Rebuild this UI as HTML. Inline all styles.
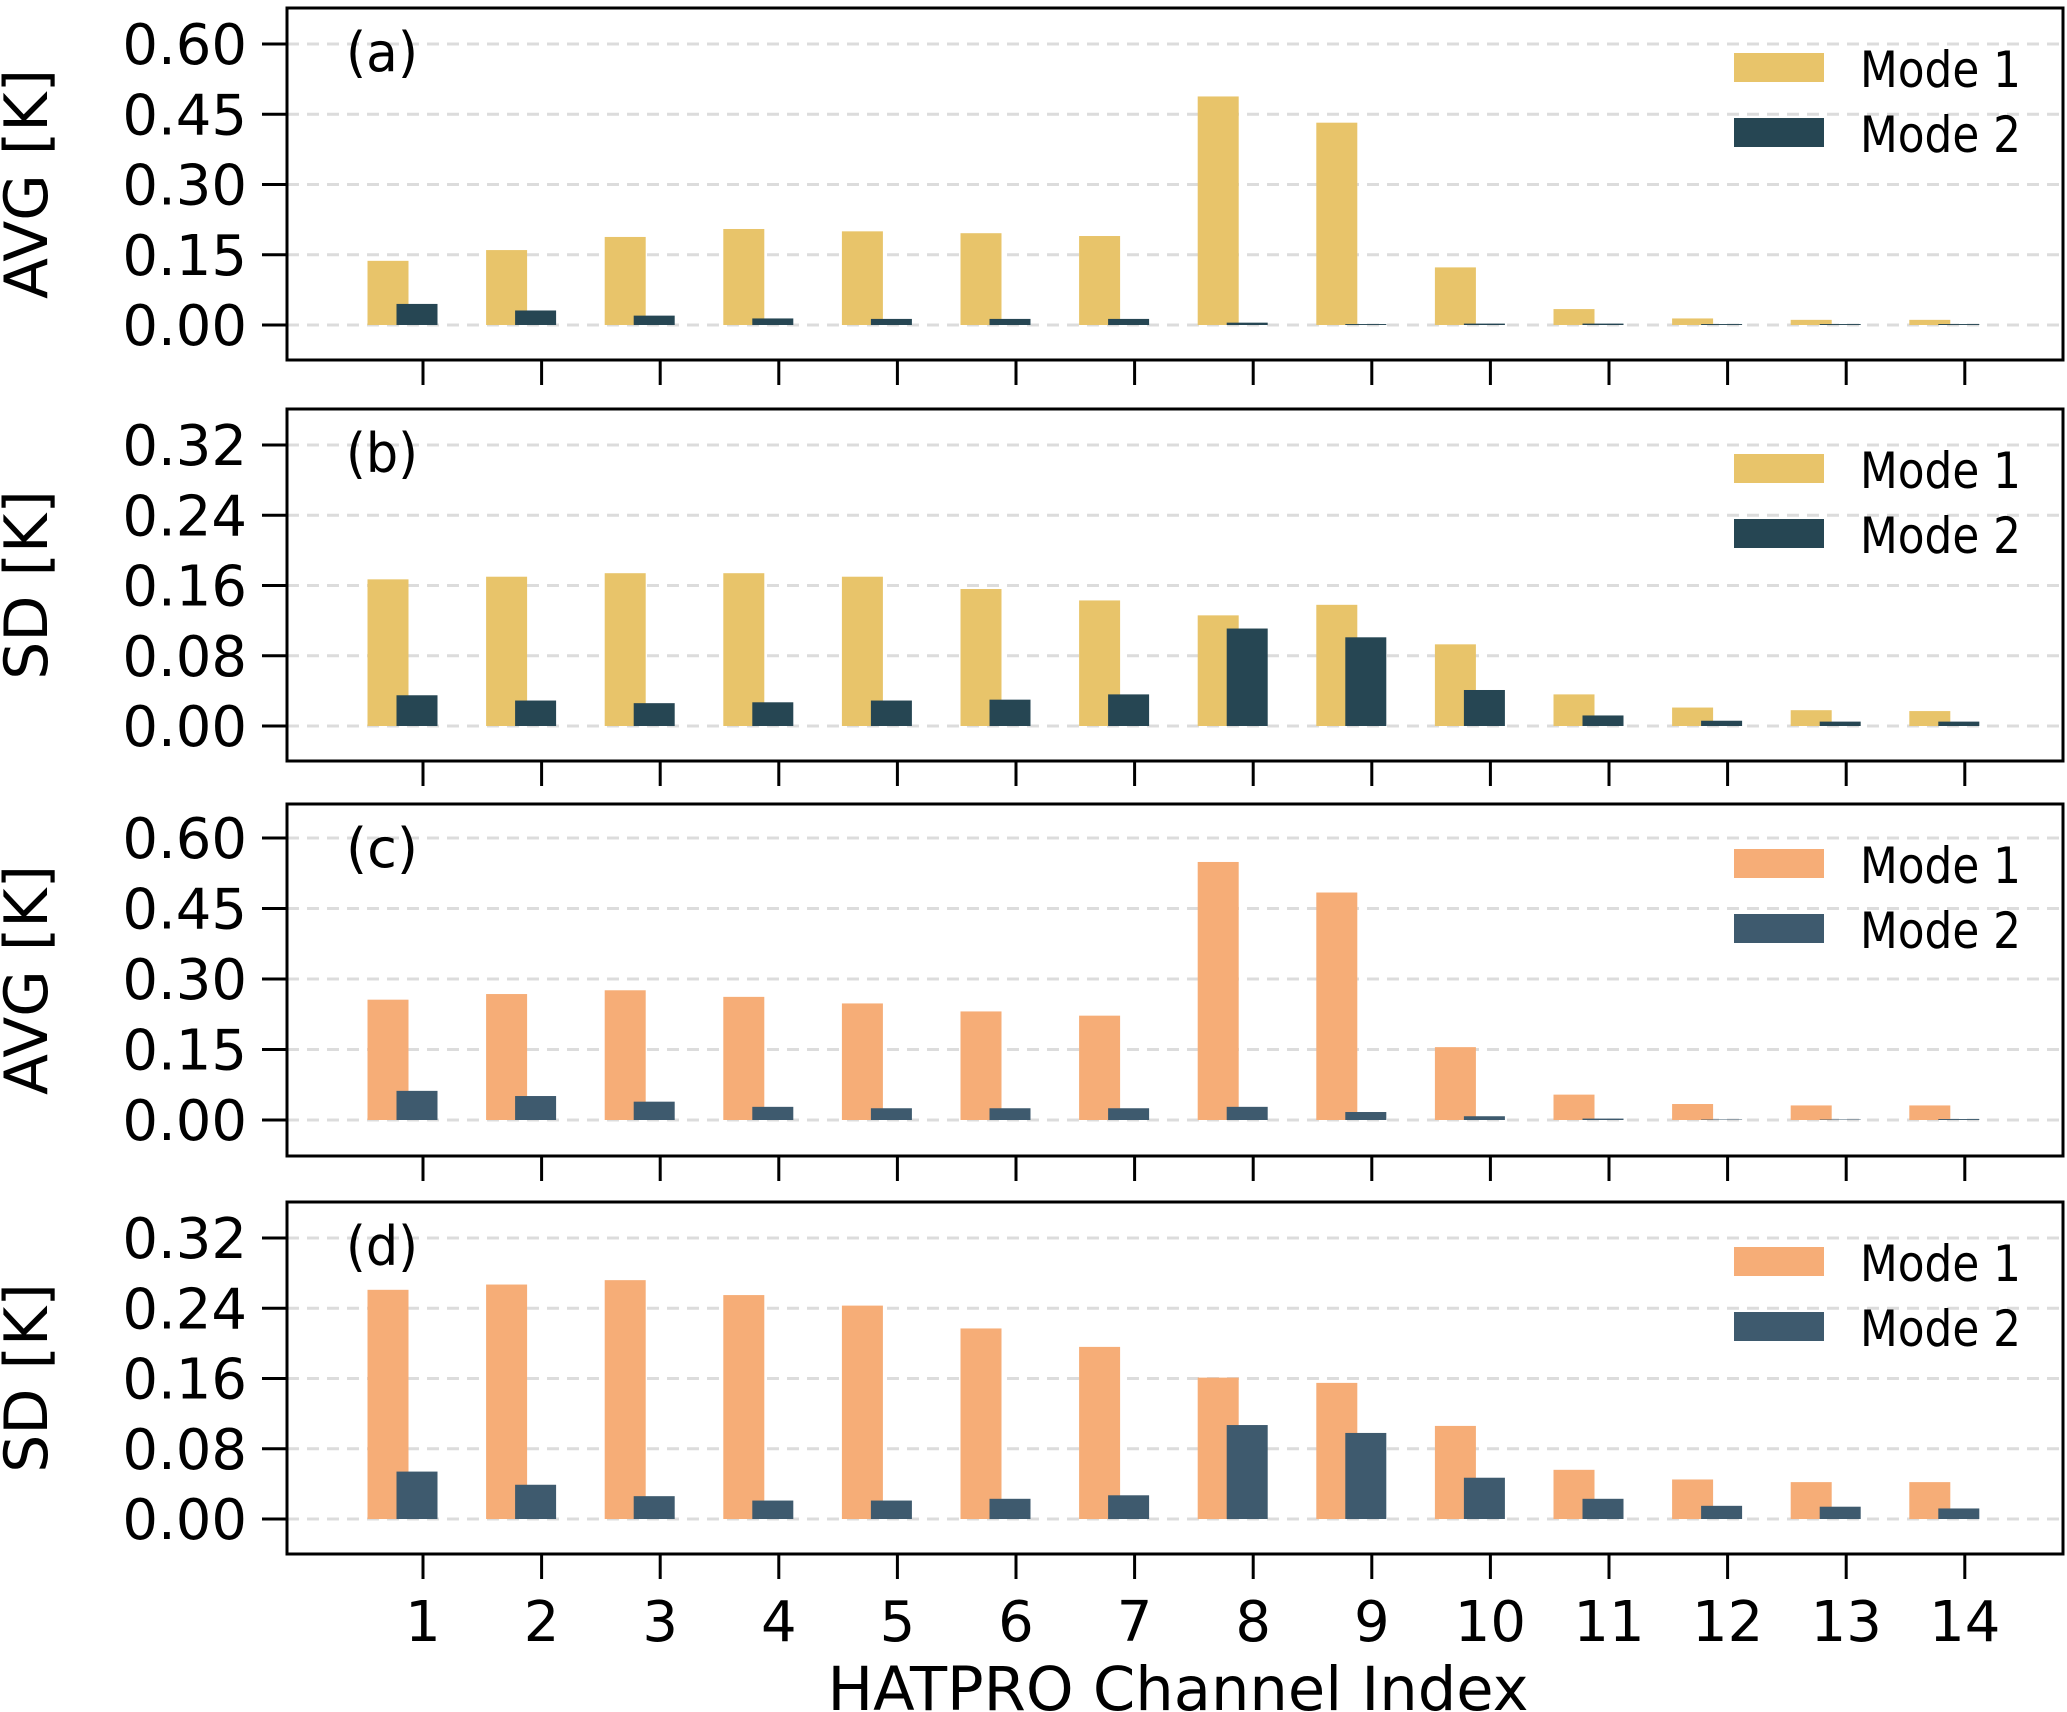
<!DOCTYPE html>
<html><head><meta charset="utf-8"><style>
html,body{margin:0;padding:0;background:#fff;}
svg{display:block;font-family:"DejaVu Sans","Liberation Sans",sans-serif;}
</style></head><body>
<svg id="chart" xmlns="http://www.w3.org/2000/svg" width="2067" height="1712" viewBox="0 0 2067 1712"></svg>
<script>
const channels = [1,2,3,4,5,6,7,8,9,10,11,12,13,14];
const avgTicksA = ["0.00","0.15","0.30","0.45","0.60"];
const sdTicks = ["0.00","0.08","0.16","0.24","0.32"];
const aMode1 = [0.137,0.16,0.188,0.205,0.2,0.196,0.19,0.488,0.432,0.123,0.034,0.014,0.011,0.011];
const aMode2 = [0.045,0.031,0.02,0.014,0.013,0.013,0.013,0.005,0.002,0.003,0.003,0.002,0.002,0.002];
const bMode1 = [0.167,0.17,0.174,0.174,0.17,0.156,0.143,0.126,0.138,0.093,0.036,0.021,0.018,0.017];
const bMode2 = [0.035,0.029,0.026,0.027,0.029,0.03,0.036,0.111,0.101,0.041,0.012,0.006,0.005,0.005];
const cMode1 = [0.256,0.268,0.276,0.262,0.248,0.231,0.222,0.549,0.484,0.155,0.054,0.034,0.031,0.031];
const cMode2 = [0.062,0.051,0.039,0.028,0.025,0.025,0.025,0.028,0.017,0.008,0.003,0.001,0.001,0.002];
const dMode1 = [0.261,0.267,0.272,0.255,0.243,0.217,0.196,0.161,0.155,0.106,0.056,0.045,0.042,0.042];
const dMode2 = [0.054,0.039,0.026,0.021,0.021,0.023,0.027,0.107,0.098,0.047,0.023,0.015,0.014,0.012];

const NS = "http://www.w3.org/2000/svg";
const svg = document.getElementById('chart');
function mk(tag, attrs, parent){
  const e = document.createElementNS(NS, tag);
  for (const k in attrs) e.setAttribute(k, attrs[k]);
  (parent||svg).appendChild(e);
  return e;
}
const X0 = 287, X1 = 2063;
function xPos(ch){ return 423 + (ch-1)*118.6; }

const panels = [
  {id:'a', top:8, bottom:360, y0:325, ymax:0.6, yTop:44, ticks:avgTicksA, label:'AVG [K]', m1:aMode1, m2:aMode2, c1:'#E8C46A', c2:'#264653'},
  {id:'b', top:409, bottom:761, y0:726, ymax:0.32, yTop:445, ticks:sdTicks, label:'SD [K]', m1:bMode1, m2:bMode2, c1:'#E8C46A', c2:'#264653'},
  {id:'c', top:804, bottom:1156, y0:1120, ymax:0.6, yTop:838, ticks:avgTicksA, label:'AVG [K]', m1:cMode1, m2:cMode2, c1:'#F6AD77', c2:'#3E5A6E'},
  {id:'d', top:1202, bottom:1554, y0:1519, ymax:0.32, yTop:1238, ticks:sdTicks, label:'SD [K]', m1:dMode1, m2:dMode2, c1:'#F6AD77', c2:'#3E5A6E'}
];

panels.forEach(p => {
  const g = mk('g', {});
  
  
  const yPos = v => p.y0 - (v / p.ymax) * (p.y0 - p.yTop);
  p.ticks.forEach(t => {
    const y = yPos(parseFloat(t));
    const gl = mk('line', {x1:X0, x2:X1, y1:y, y2:y, stroke:'#dcdcdc', 'stroke-width':3, 'stroke-dasharray':'12,8'}, g);
    
    
    const tk = mk('line', {x1:262, x2:X0, y1:y, y2:y, stroke:'#000', 'stroke-width':3}, g);
    
    
    const tl = mk('text', {x:247, y:y+20, 'font-size':56, 'text-anchor':'end', fill:'#000'}, g);
    tl.textContent = t;
    
    
  });
  channels.forEach((ch, i) => {
    const xc = xPos(ch);
    const b1 = mk('rect', {x:xc-35-20.5, y:yPos(p.m1[i]), width:41, height:p.y0-yPos(p.m1[i]), fill:p.c1}, g);
    
    
    const b2 = mk('rect', {x:xc-6-20.5, y:yPos(p.m2[i]), width:41, height:p.y0-yPos(p.m2[i]), fill:p.c2}, g);
    
    
    const xt = mk('line', {x1:xc, x2:xc, y1:p.bottom, y2:p.bottom+25, stroke:'#000', 'stroke-width':3}, g);
    
    
  });
  const fr = mk('rect', {x:X0, y:p.top, width:X1-X0, height:p.bottom-p.top, fill:'none', stroke:'#000', 'stroke-width':3}, g);
  
  
  const pt = mk('text', {x:346, y:p.top+63, 'font-size':54, fill:'#000', textLength:72, lengthAdjust:'spacingAndGlyphs'}, g);
  pt.textContent = '(' + p.id + ')';
  
  
  const cy = (p.top + p.bottom) / 2;
  const yl = mk('text', {x:0, y:0, 'font-size':60, 'text-anchor':'middle', fill:'#000', transform:'translate(47,'+cy+') rotate(-90)'}, g);
  yl.textContent = p.label;
  
  
  const lg = mk('g', {}, g);
  
  
  [[p.c1,'Mode 1',45],[p.c2,'Mode 2',110]].forEach(([c, t, off]) => {
    const r = mk('rect', {x:1734, y:p.top+off, width:90, height:29, fill:c}, lg);
    
    
    const tx = mk('text', {x:1860, y:p.top+off+34, 'font-size':50, fill:'#000', textLength:161, lengthAdjust:'spacingAndGlyphs'}, lg);
    tx.textContent = t;
    
    
  });
});

channels.forEach(ch => {
  const t = mk('text', {x:xPos(ch), y:1641, 'font-size':56, 'text-anchor':'middle', fill:'#000'});
  t.textContent = String(ch);
  
  
});
const xt = mk('text', {x:1178, y:1710, 'font-size':61, 'text-anchor':'middle', fill:'#000', textLength:701, lengthAdjust:'spacingAndGlyphs'});
xt.textContent = 'HATPRO Channel Index';


</script>
</body></html>
